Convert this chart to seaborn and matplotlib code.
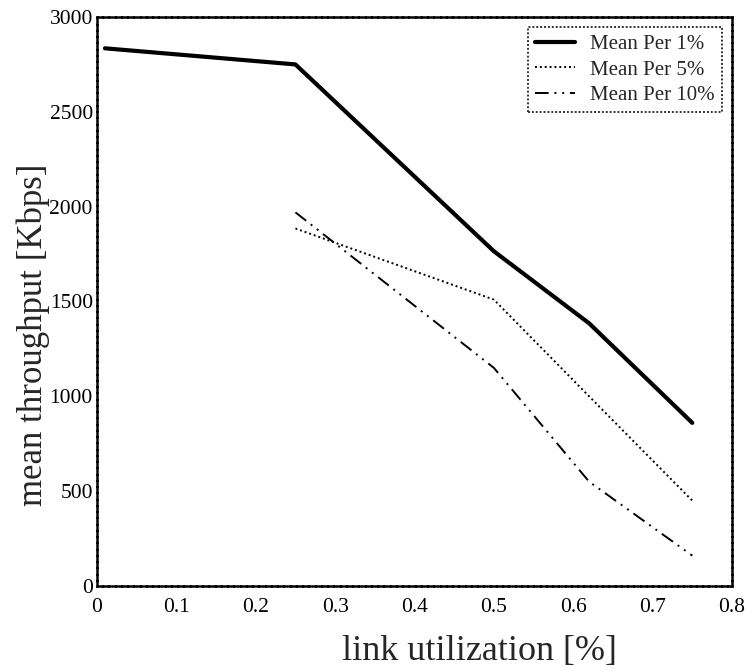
import matplotlib
matplotlib.use("Agg")
import matplotlib.pyplot as plt
import seaborn as sns
import pandas as pd

# Link utilization levels and mean throughput for each loss rate
utilization = [0.01, 0.25, 0.50, 0.62, 0.75]
per1 = [2835, 2750, 1765, 1385, 860]
util_hi = [0.25, 0.50, 0.62, 0.75]
per5 = [1885, 1510, 1000, 450]
per10 = [1970, 1150, 550, 160]

series_names = ["Mean Per 1%", "Mean Per 5%", "Mean Per 10%"]
x_ticks = [0, 0.1, 0.2, 0.3, 0.4, 0.5, 0.6, 0.7, 0.8]
y_ticks = [0, 500, 1000, 1500, 2000, 2500, 3000]

frames = [
    pd.DataFrame({"util": utilization, "thr": per1, "series": series_names[0]}),
    pd.DataFrame({"util": util_hi, "thr": per5, "series": series_names[1]}),
    pd.DataFrame({"util": util_hi, "thr": per10, "series": series_names[2]}),
]
df = pd.concat(frames, ignore_index=True)

sns.set_style("white")
plt.rcParams["font.family"] = ["Liberation Serif", "DejaVu Serif"]

fig = plt.figure(figsize=(7.48, 6.70), dpi=100)
ax = fig.add_axes([0.1297, 0.1254, 0.8489, 0.8492])

styles = {
    series_names[0]: dict(linestyle="-", linewidth=3.0),
    series_names[1]: dict(linestyle=(0, (1, 1.5)), linewidth=1.4),
    series_names[2]: dict(linestyle=(0, (7, 3, 1, 3, 1, 3)), linewidth=1.4),
}
for name in series_names:
    sub = df[df["series"] == name]
    sns.lineplot(data=sub, x="util", y="thr", ax=ax, color="black",
                 label=name, **styles[name])

ax.set_xlim(0, 0.8)
ax.set_ylim(0, 3000)
ax.set_xticks(x_ticks)
ax.set_xticklabels([f"{t:g}" for t in x_ticks])
ax.set_yticks(y_ticks)
ax.set_yticklabels([str(t) for t in y_ticks])
ax.tick_params(axis="both", direction="in", length=2, width=1, labelsize=15.5,
               colors="black")
ax.tick_params(axis="x", pad=9)
ax.tick_params(axis="y", pad=3)

for sp in ax.spines.values():
    sp.set_visible(True)
    sp.set_color("black")
    sp.set_linewidth(1.8)
    sp.set_linestyle((0, (2, 0.5)))

ax.set_xlabel("link utilization [%]", fontsize=26, va="center")
ax.xaxis.set_label_coords(0.603, -0.116)
ax.set_ylabel("mean throughput [Kbps]", fontsize=25, va="center")
ax.yaxis.set_label_coords(-0.1, 0.441)

leg = ax.legend(loc="upper right", fontsize=15, frameon=True, fancybox=False,
                borderpad=0.35, labelspacing=0.28, handlelength=1.9,
                handletextpad=0.7, borderaxespad=0.5)
leg.get_frame().set_edgecolor("black")
leg.get_frame().set_linewidth(1.4)
leg.get_frame().set_linestyle((0, (1, 1)))
leg.get_frame().set_boxstyle("square", pad=0)

fig.savefig("out.png", dpi=100)
